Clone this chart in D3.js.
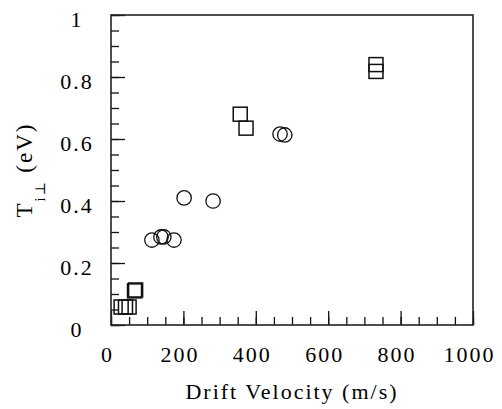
<!DOCTYPE html>
<html>
<head>
<meta charset="utf-8">
<script src="https://cdn.jsdelivr.net/npm/d3@7"></script>
<style>
  body { margin: 0; background: #fff; }
  svg text { font-family: "Liberation Serif", "Times New Roman", Times, "DejaVu Serif", serif !important; fill: #000; }
</style>
</head>
<body>
<svg id="drawing_region"></svg>
<script>
// circles
const circleV = [113, 138, 146, 174, 202, 282, 467, 480];
const circleT = [0.274, 0.284, 0.284, 0.274, 0.41, 0.40, 0.616, 0.613];
// squares
const squareV = [28, 40, 50, 65, 68, 357, 373, 732, 732];
const squareT = [0.058, 0.058, 0.058, 0.110, 0.113, 0.68, 0.635, 0.840, 0.818];

const xMajor = [0, 200, 400, 600, 800, 1000];
const yMajor = [0, 0.2, 0.4, 0.6, 0.8, 1];
const xlabel = 'Drift Velocity (m/s)';

const width = 502, height = 409;
const margin = {top: 15, right: 29, bottom: 84, left: 111};
const inner_width = width - margin.left - margin.right;
const inner_height = height - margin.top - margin.bottom;

const svg = d3.select('#drawing_region')
    .attr('width', width)
    .attr('height', height);

const chart = svg.append('g')
    .attr('transform', `translate(${margin.left}, ${margin.top})`);

const xscale = d3.scaleLinear().domain([0, 1000]).range([0, inner_width]);
const yscale = d3.scaleLinear().domain([0, 1]).range([inner_height, 0]);

// minor ticks
chart.append('g')
    .attr('transform', `translate(0, ${inner_height})`)
    .call(d3.axisBottom(xscale).tickValues(d3.range(0, 1001, 50)).tickSize(-8).tickFormat(''))
    .call(g => g.select('.domain').remove())
    .selectAll('line').attr('stroke', '#111').attr('stroke-width', 1.3);

chart.append('g')
    .call(d3.axisLeft(yscale).tickValues(d3.range(0, 1.001, 0.05)).tickSize(-8).tickFormat(''))
    .call(g => g.select('.domain').remove())
    .selectAll('line').attr('stroke', '#111').attr('stroke-width', 1.3);

// major ticks + labels
const xg = chart.append('g')
    .attr('transform', `translate(0, ${inner_height})`)
    .call(d3.axisBottom(xscale).tickValues(xMajor).tickSize(-14).tickFormat(d3.format('d')))
    .call(g => g.select('.domain').remove())
    .attr('font-family', null);
xg.selectAll('line').attr('stroke', '#111').attr('stroke-width', 1.3);
xg.selectAll('text')
    .attr('y', 37).attr('dy', 0).attr('x', -4)
    .style('font-size', '22px').style('letter-spacing', '2px');

const yg = chart.append('g')
    .call(d3.axisLeft(yscale).tickValues(yMajor).tickSize(-14).tickFormat(d => d3.format('')(d)))
    .call(g => g.select('.domain').remove())
    .attr('font-family', null);
yg.selectAll('line').attr('stroke', '#111').attr('stroke-width', 1.3);
yg.selectAll('text')
    .attr('text-anchor', 'middle')
    .attr('x', -34).attr('y', 11.5).attr('dy', 0)
    .style('font-size', '22px').style('letter-spacing', '2px');

// frame
chart.append('rect')
    .attr('width', inner_width)
    .attr('height', inner_height)
    .attr('fill', 'none')
    .attr('stroke', '#222')
    .attr('stroke-width', 1.6);

// markers
chart.selectAll('circle.pt')
    .data(circleV)
    .enter()
    .append('circle')
    .attr('class', 'pt')
    .attr('cx', (d, i) => xscale(d))
    .attr('cy', (d, i) => yscale(circleT[i]))
    .attr('r', 7.2)
    .attr('fill', 'none')
    .attr('stroke', '#111')
    .attr('stroke-width', 1.3);

const s = 14;
chart.selectAll('rect.pt')
    .data(squareV)
    .enter()
    .append('rect')
    .attr('class', 'pt')
    .attr('x', d => xscale(d) - s / 2)
    .attr('y', (d, i) => yscale(squareT[i]) - s / 2)
    .attr('width', s)
    .attr('height', s)
    .attr('fill', 'none')
    .attr('stroke', '#111')
    .attr('stroke-width', 1.5);

// x label
svg.append('text')
    .attr('text-anchor', 'middle')
    .attr('x', margin.left + inner_width / 2)
    .attr('y', 399)
    .style('font-size', '22px')
    .style('letter-spacing', '2px')
    .text(xlabel);

// y label
const yl = svg.append('text')
    .attr('text-anchor', 'middle')
    .attr('transform', 'rotate(-90)')
    .attr('x', -(margin.top + inner_height / 2))
    .attr('y', 32)
    .style('font-size', '23px')
    .style('letter-spacing', '2px');
yl.append('tspan').text('T');
yl.append('tspan').attr('dy', 13).style('font-size', '14px').text('i\u22A5');
yl.append('tspan').attr('dy', -13).text(' (eV)');
</script>
</body>
</html>
